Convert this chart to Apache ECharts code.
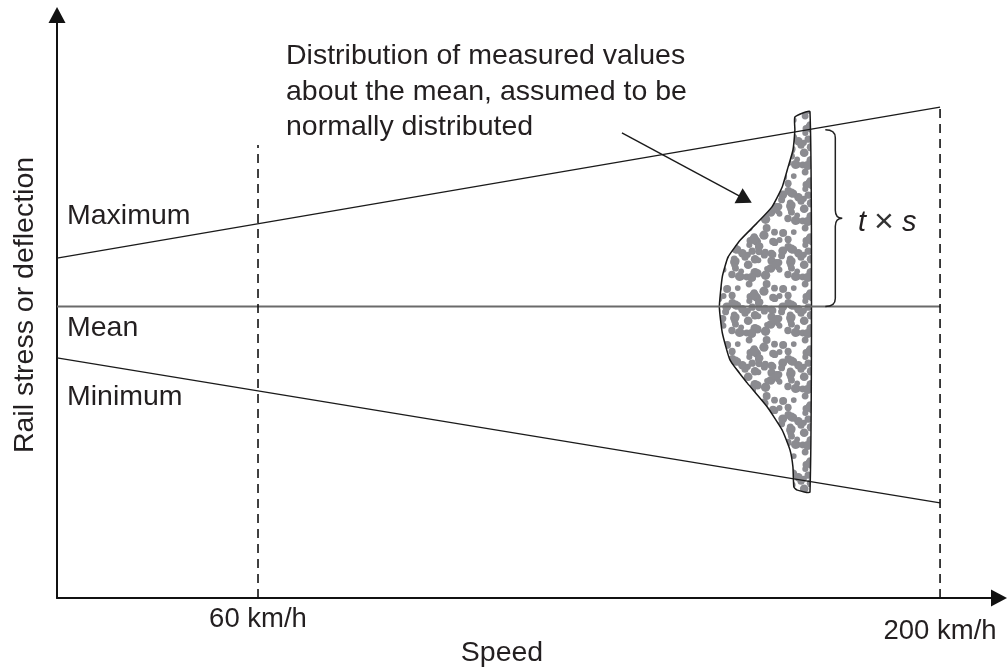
<!DOCTYPE html>
<html>
<head>
<meta charset="utf-8">
<script src="https://cdn.jsdelivr.net/npm/echarts@6/dist/echarts.min.js"></script>
<style>
html,body{margin:0;padding:0;background:#fff;}
#chart{width:1008px;height:671px;}
</style>
</head>
<body>
<div id="chart"></div>
<script>
// ---- data (speed in km/h, response in arbitrary units) ----
var xRange = [18.74, 212.1];
var yRange = [0, 100];
var tickValues = [60, 200];
var tickLabels = ['60 km/h', '200 km/h'];
var lineSpeeds = [18.74, 200];
var maxValues = [58.3, 84.2];
var meanValues = [50, 50];
var minValues = [41.2, 16.3];
var dashedSpeeds = [60, 200];
var dashedTops = [77.7, 84.2];
// outline of the distribution (speed, value), traced clockwise from top-left
var distSpeed = [170.2, 173.3, 173.3, 170.7, 170.0, 169.8, 169.2, 167.6, 164.5, 160.4, 156.9, 155.3, 154.7, 155.3, 156.5, 159.0, 162.4, 165.5, 167.6, 168.8, 169.8, 170.2];
var distValue = [82.5, 83.4, 18.2, 18.5, 19.0, 22.5, 25.4, 28.8, 32.8, 36.9, 40.8, 45.5, 49.9, 55.1, 58.5, 61.4, 64.3, 67.1, 70.5, 73.9, 76.8, 80.3];
var braceSpeed = 178.5;
var braceRange = [50, 80.3];
var arrowStart = [134.7, 79.8];
var arrowEnd = [160.0, 68.4];
var labelNames = ['Maximum', 'Mean', 'Minimum'];
var annotationLines = ['Distribution of measured values', 'about the mean, assumed to be', 'normally distributed'];

var FONT = '"Liberation Sans", Arial, Helvetica, sans-serif';
var TXT = '#231f20';
var FS = 28.5;

// dotted texture (style only)
function makeTexture() {
  var size = 56;
  var c = document.createElement('canvas');
  c.width = size; c.height = size;
  var ctx = c.getContext('2d');
  ctx.fillStyle = '#ffffff';
  ctx.fillRect(0, 0, size, size);
  ctx.fillStyle = '#8b8b90';
  var seed = 9871;
  function rnd() { seed = (seed * 16807) % 2147483647; return seed / 2147483647; }
  for (var i = 0; i < 62; i++) {
    var x = rnd() * size, y = rnd() * size, r = 2.8 + rnd() * 1.9;
    for (var dx = -1; dx <= 1; dx++) for (var dy = -1; dy <= 1; dy++) {
      ctx.beginPath();
      ctx.arc(x + dx * size, y + dy * size, r, 0, Math.PI * 2);
      ctx.fill();
    }
  }
  return c;
}
var texture = makeTexture();

function pairs(xs, ys) { return xs.map(function (x, i) { return [x, ys[i]]; }); }

var chart = echarts.init(document.getElementById('chart'), null, {renderer: 'canvas'});

var option = {
  animation: false,
  backgroundColor: '#ffffff',
  grid: {left: 57, right: 9, top: 15, bottom: 73, containLabel: false},
  xAxis: {
    type: 'value', min: xRange[0], max: xRange[1],
    axisLine: {show: true, symbol: ['none', 'triangle'], symbolSize: [17, 16], lineStyle: {color: '#111', width: 2}},
    axisTick: {show: false},
    splitLine: {show: false},
    axisLabel: {
      show: true, customValues: tickValues, margin: 7,
      formatter: function (v) {
        var i = tickValues.indexOf(v);
        return i === 1 ? '{b|' + tickLabels[i] + '}' : '{a|' + tickLabels[i] + '}';
      },
      rich: {
        a: {fontFamily: FONT, fontSize: 27.5, color: TXT},
        b: {fontFamily: FONT, fontSize: 27.5, color: TXT, padding: [12, 0, 0, 0]}
      }
    }
  },
  yAxis: {
    type: 'value', min: yRange[0], max: yRange[1],
    axisLine: {show: true, symbol: ['none', 'triangle'], symbolSize: [17, 16], lineStyle: {color: '#111', width: 2}},
    axisTick: {show: false}, axisLabel: {show: false}, splitLine: {show: false}
  },
  graphic: [
    {type: 'text', x: 25, y: 305, rotation: Math.PI / 2, style: {text: 'Rail stress or deflection', font: FS + 'px ' + FONT, fill: TXT, align: 'center', verticalAlign: 'middle'}},
    {type: 'text', x: 502, y: 653, style: {text: 'Speed', font: FS + 'px ' + FONT, fill: TXT, align: 'center', verticalAlign: 'middle'}},
    {type: 'text', x: 67, y: 216, style: {text: labelNames[0], font: FS + 'px ' + FONT, fill: TXT, align: 'left', verticalAlign: 'middle'}},
    {type: 'text', x: 67, y: 328, style: {text: labelNames[1], font: FS + 'px ' + FONT, fill: TXT, align: 'left', verticalAlign: 'middle'}},
    {type: 'text', x: 67, y: 397, style: {text: labelNames[2], font: FS + 'px ' + FONT, fill: TXT, align: 'left', verticalAlign: 'middle'}},
    {type: 'text', x: 286, y: 92, style: {text: annotationLines.join('\n'), font: FS + 'px ' + FONT, lineHeight: 35.5, fill: TXT, align: 'left', verticalAlign: 'middle'}},
    {type: 'text', x: 858, y: 223, style: {
      text: '{i|t} {x|×} {i|s}', align: 'left', verticalAlign: 'middle',
      rich: {
        i: {fontFamily: FONT, fontStyle: 'italic', fontSize: 29, fill: TXT},
        x: {fontFamily: FONT, fontSize: 34, fill: '#333'}
      },
      font: '29px ' + FONT, fill: TXT}}
  ],
  series: [
    {
      type: 'custom', z: 1, silent: true,
      data: [0],
      renderItem: function (params, api) {
        var pts = distSpeed.map(function (s, i) { return api.coord([s, distValue[i]]); });
        return {
          type: 'polygon',
          shape: {points: pts, smooth: 0.15},
          style: {fill: {image: texture, repeat: 'repeat'}, stroke: '#1a1a1a', lineWidth: 1.5}
        };
      }
    },
    {
      type: 'custom', z: 3, silent: true,
      data: [0],
      renderItem: function (params, api) {
        var t = api.coord([braceSpeed, braceRange[1]]);
        var b = api.coord([braceSpeed, braceRange[0]]);
        var x = t[0], y1 = t[1], y2 = b[1], m = (y1 + y2) / 2;
        var d = 'M' + (x - 10) + ' ' + y1 +
          ' Q' + x + ' ' + y1 + ' ' + x + ' ' + (y1 + 8) +
          ' L' + x + ' ' + (m - 8) +
          ' Q' + x + ' ' + m + ' ' + (x + 7) + ' ' + m +
          ' Q' + x + ' ' + m + ' ' + x + ' ' + (m + 8) +
          ' L' + x + ' ' + (y2 - 8) +
          ' Q' + x + ' ' + y2 + ' ' + (x - 10) + ' ' + y2;
        return {type: 'path', shape: {pathData: d}, style: {fill: 'none', stroke: '#222', lineWidth: 1.5}};
      }
    },
    {type: 'line', z: 2, symbol: 'none', silent: true, data: pairs(lineSpeeds, maxValues), lineStyle: {color: '#1a1a1a', width: 1.3},
      markLine: {silent: true, symbol: ['none', 'triangle'], symbolSize: [17, 15], label: {show: false},
        lineStyle: {color: '#1a1a1a', width: 1.4, type: 'solid'},
        data: [[{coord: arrowStart}, {coord: arrowEnd}]]}},
    {type: 'line', z: 2, symbol: 'none', silent: true, data: pairs(lineSpeeds, meanValues), lineStyle: {color: '#6a6a6a', width: 2}},
    {type: 'line', z: 2, symbol: 'none', silent: true, data: pairs(lineSpeeds, minValues), lineStyle: {color: '#1a1a1a', width: 1.3}},
    {type: 'line', z: 2, symbol: 'none', silent: true, data: [[dashedSpeeds[0], 0], [dashedSpeeds[0], dashedTops[0]]], lineStyle: {color: '#111', width: 1.6, type: [9, 6]}},
    {type: 'line', z: 2, symbol: 'none', silent: true, data: [[dashedSpeeds[1], 0], [dashedSpeeds[1], dashedTops[1]]], lineStyle: {color: '#111', width: 1.6, type: [9, 6]}}
  ]
};
chart.setOption(option);
</script>
</body>
</html>
